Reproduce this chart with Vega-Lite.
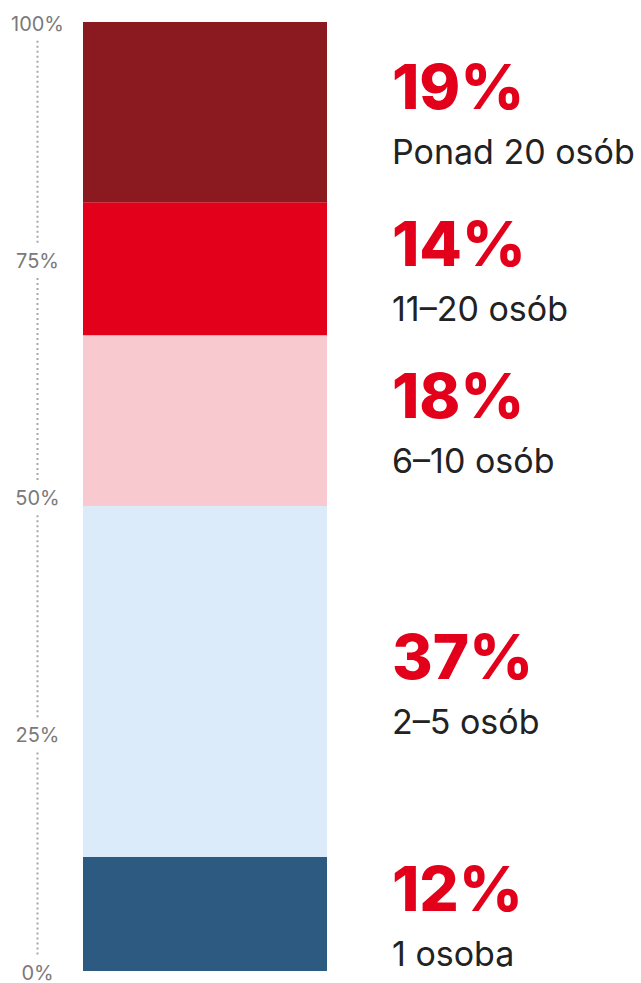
{
  "$schema": "https://vega.github.io/schema/vega-lite/v6.json",
  "autosize": {"type": "none"},
  "padding": {"left": 83, "top": 22, "right": 314, "bottom": 12},
  "width": 244,
  "height": 949,
  "background": "white",
  "config": {"view": {"stroke": null}, "font": "Inter"},
  "data": {
    "values": [
      {"group": "1 osoba", "share": 12, "k": 1},
      {"group": "2–5 osób", "share": 37, "k": 2},
      {"group": "6–10 osób", "share": 18, "k": 3},
      {"group": "11–20 osób", "share": 14, "k": 4},
      {"group": "Ponad 20 osób", "share": 19, "k": 5}
    ]
  },
  "transform": [
    {"stack": "share", "groupby": [], "sort": [{"field": "k", "order": "ascending"}], "as": ["y0", "y1"]},
    {"calculate": "(datum.y0 + datum.y1) / 2", "as": "mid"},
    {"calculate": "datum.share + '%'", "as": "pct"}
  ],
  "layer": [
    {
      "mark": {"type": "bar"},
      "encoding": {
        "x": {"datum": "all", "type": "nominal", "scale": {"paddingInner": 0, "paddingOuter": 0}, "axis": null},
        "y": {
          "field": "y0",
          "type": "quantitative",
          "scale": {"domain": [0, 100], "nice": false},
          "axis": {
            "offset": 46,
            "grid": false,
            "ticks": false,
            "tickSize": 0,
            "labelPadding": 0,
            "labelAlign": "center",
            "labelBaseline": "middle",
            "labelOffset": 2,
            "labelFontSize": 20,
            "labelFont": "Inter",
            "labelColor": "#7a7a7a",
            "labelOverlap": false,
            "labelBound": false,
            "domainColor": "#a8a8a8",
            "domainWidth": 2,
            "domainDash": [0, 17, 2, 3, 2, 3, 2, 3, 2, 3, 2, 3, 2, 3, 2, 3, 2, 3, 2, 3, 2, 3, 2, 3, 2, 3, 2, 3, 2, 3, 2, 3, 2, 3, 2, 3, 2, 3, 2, 3, 2, 3, 2, 3, 2, 3, 2, 3, 2, 3, 2, 3, 2, 3, 2, 3, 2, 3, 2, 3, 2, 3, 2, 3, 2, 3, 2, 3, 2, 3, 2, 3, 2, 3, 2, 3, 2, 3, 2, 3, 2, 3, 2, 18.25],
            "values": [0, 25, 50, 75, 100],
            "labelExpr": "datum.value + '%'",
            "title": null
          }
        },
        "y2": {"field": "y1"},
        "color": {
          "field": "group",
          "type": "nominal",
          "scale": {
            "domain": ["1 osoba", "2–5 osób", "6–10 osób", "11–20 osób", "Ponad 20 osób"],
            "range": ["#2d5a80", "#dcebf9", "#f8cad0", "#e2001a", "#8a1a1f"]
          },
          "legend": null
        }
      }
    },
    {
      "mark": {"type": "text", "align": "left", "baseline": "alphabetic", "dx": 187, "dy": -3, "fontSize": 62, "fontWeight": 800, "font": "Inter", "color": "#e2001a"},
      "encoding": {
        "x": {"datum": "all", "type": "nominal"},
        "y": {"field": "mid", "type": "quantitative"},
        "text": {"field": "pct", "type": "nominal"}
      }
    },
    {
      "mark": {"type": "text", "align": "left", "baseline": "alphabetic", "dx": 187, "dy": 52, "fontSize": 34, "fontWeight": 400, "font": "Inter", "color": "#222222"},
      "encoding": {
        "x": {"datum": "all", "type": "nominal"},
        "y": {"field": "mid", "type": "quantitative"},
        "text": {"field": "group", "type": "nominal"}
      }
    }
  ]
}
